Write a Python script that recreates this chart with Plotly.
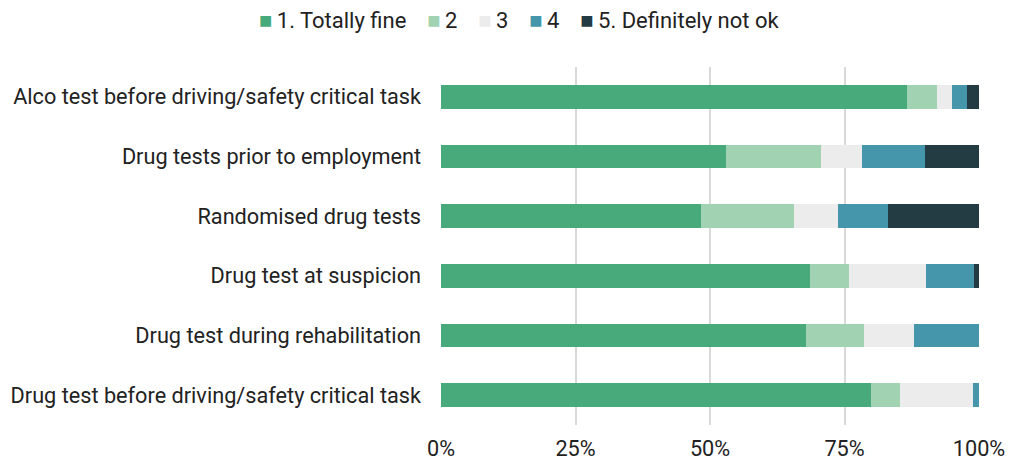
import plotly.graph_objects as go

categories = [
    "Alco test before driving/safety critical task",
    "Drug tests prior to employment",
    "Randomised drug tests",
    "Drug test at suspicion",
    "Drug test during rehabilitation",
    "Drug test before driving/safety critical task",
]
series_names = ["1. Totally fine", "2", "3", "4", "5. Definitely not ok"]
totally_fine = [86.6, 52.9, 48.4, 68.5, 67.9, 80.0]
level_2 = [5.5, 17.8, 17.3, 7.4, 10.7, 5.4]
level_3 = [2.8, 7.5, 8.0, 14.2, 9.4, 13.5]
level_4 = [2.8, 11.8, 9.4, 9.0, 12.0, 1.1]
definitely_not_ok = [2.3, 10.0, 16.9, 0.9, 0.0, 0.0]
colors = ["#48A97B", "#A1D2B1", "#ECECEC", "#4596AA", "#233C43"]

fig = go.Figure()
for name, vals, col in zip(series_names,
                           [totally_fine, level_2, level_3, level_4, definitely_not_ok],
                           colors):
    fig.add_trace(go.Bar(
        y=categories, x=[v / 100 for v in vals], name=name, orientation="h",
        marker=dict(color=col, line=dict(width=0)), showlegend=False,
    ))

# compact legend row: small coloured square followed by the series name
THIN = "\u2009"
legend_parts = [
    f"<span style='color:{c};font-size:22px'>■</span>{THIN}{n}"
    for n, c in zip(series_names, colors)
]
legend_text = ("&nbsp;&nbsp;&nbsp;" + THIN).join(legend_parts)
fig.add_annotation(
    text=legend_text, xref="paper", yref="paper", x=(519 - 441) / 538,
    y=1.0, yshift=67 - 20, yanchor="middle", xanchor="center",
    showarrow=False, font=dict(size=22, color="#222222"),
)

fig.update_layout(
    barmode="stack",
    bargap=0.6,
    width=1009, height=463,
    margin=dict(l=441, r=30, t=67, b=38),
    plot_bgcolor="white", paper_bgcolor="white",
    font=dict(family="Roboto", size=21.7, color="#222222"),
    xaxis=dict(range=[0, 1], tickvals=[0, 0.25, 0.5, 0.75, 1],
               tickformat=".0%", showgrid=True, gridcolor="#D9D9D9", gridwidth=2,
               zeroline=False, ticklabelstandoff=8, automargin=False),
    yaxis=dict(categoryorder="array", categoryarray=categories[::-1],
               showgrid=False, ticklabelstandoff=19, automargin=False),
)

fig.write_html("out.html")
